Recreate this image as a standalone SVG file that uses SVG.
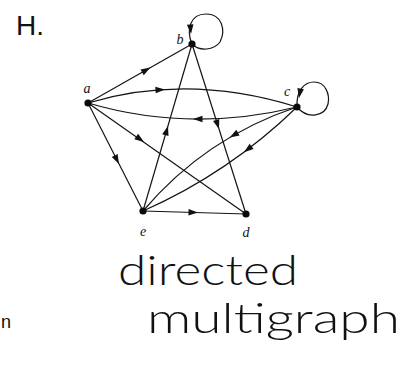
<svg xmlns="http://www.w3.org/2000/svg" xmlns:xlink="http://www.w3.org/1999/xlink" width="412" height="373" viewBox="0 0 412 373">
<style>
.e{fill:none;stroke:#141414;stroke-width:1.2}
.n{fill:#0a0a0a}
.lb{font-family:"Liberation Serif",serif;font-style:italic;font-size:14px;fill:#111;text-anchor:middle}
.hw{font-family:Lato,Inter,"Open Sans","Liberation Sans",sans-serif;font-weight:300;font-size:42px;fill:#111}
.ah{fill:#111}
</style>
<defs>
<path id="ah" d="M0,0 L-9.5,-3.3 L-9.5,3.3 Z"/>
</defs>
<rect width="412" height="373" fill="#fff"/>
<text x="16" y="35" font-family="Liberation Sans, sans-serif" font-size="28" fill="#111">H.</text>
<g id="connectors">
<path class="e" d="M88,103 L192,44"/>
<path class="e" d="M143,211 L192,44"/>
<path class="e" d="M192,44 L246,214"/>
<path class="e" d="M88,103 L143,211"/>
<path class="e" d="M88,103 L246,214"/>
<path class="e" d="M143,211 L246,214"/>
<path class="e" d="M88,103 Q188,73 297,107"/>
<path class="e" d="M88,103 Q190,133 297,107"/>
<path class="e" d="M143,211 Q205.4,137.4 297,107"/>
<path class="e" d="M143,211 Q229,173 297,107"/>
<path class="e" d="M192,44 C186,30 190,14 206,14 C222,14 226,30 220,42 C214,50 200,52 192,44"/>
<path class="e" d="M297,107 C296,90 305,82 314,82 C326,82 330,95 328,104 C325,116 308,120 297,107"/>
<g class="ah">
<use xlink:href="#ah" transform="translate(150.4,67.6) rotate(-29.57)"/>
<use xlink:href="#ah" transform="translate(168,126) rotate(-73.65)"/>
<use xlink:href="#ah" transform="translate(219,129) rotate(72.38)"/>
<use xlink:href="#ah" transform="translate(119,164) rotate(63)"/>
<use xlink:href="#ah" transform="translate(144,142) rotate(35.09)"/>
<use xlink:href="#ah" transform="translate(198,212.6) rotate(1.67)"/>
<use xlink:href="#ah" transform="translate(229.7,137.4) rotate(150.1)"/>
<use xlink:href="#ah" transform="translate(244,152.2) rotate(142.9)"/>
<use xlink:href="#ah" transform="translate(165,89.4) rotate(-3.85)"/>
<use xlink:href="#ah" transform="translate(193,119) rotate(180)"/>
<use xlink:href="#ah" transform="translate(191,34) rotate(85)"/>
<use xlink:href="#ah" transform="translate(299,98) rotate(100)"/>
</g>
</g>
<g id="node-a"><circle class="n" cx="88" cy="103" r="3.6"/><text class="lb" x="87" y="93">a</text></g>
<g id="node-b"><circle class="n" cx="192" cy="44" r="3.6"/><text class="lb" x="180" y="44">b</text></g>
<g id="node-c"><circle class="n" cx="297" cy="107" r="3.6"/><text class="lb" x="287" y="96">c</text></g>
<g id="node-e"><circle class="n" cx="143" cy="211" r="3.6"/><text class="lb" x="143" y="236">e</text></g>
<g id="node-d"><circle class="n" cx="246" cy="214" r="3.6"/><text class="lb" x="246" y="237">d</text></g>
<text class="hw" x="118" y="285" textLength="180" lengthAdjust="spacingAndGlyphs">directed</text>
<text class="hw" x="147" y="333" textLength="253" lengthAdjust="spacingAndGlyphs">multigraph</text>
<text x="1" y="328" font-family="Liberation Sans, sans-serif" font-size="18" fill="#111">n</text>
</svg>
